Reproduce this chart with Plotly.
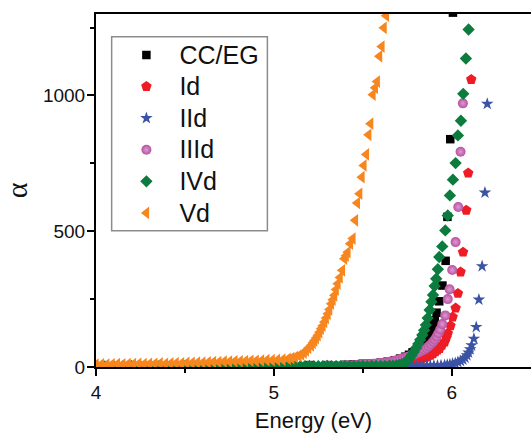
import plotly.graph_objects as go

# ---- absorption coefficient vs photon energy -------------------------------
SERIES_NAMES = ["CC/EG", "Id", "IId", "IIId", "IVd", "Vd"]

ENERGY_CCEG = [4.00, 4.10, 4.20, 4.30, 4.40, 4.50, 4.60, 4.70, 4.80, 4.90, 5.00,
               5.10, 5.20, 5.30, 5.40, 5.45, 5.50, 5.55, 5.60, 5.64, 5.68, 5.71,
               5.74, 5.76, 5.78, 5.80, 5.82, 5.84, 5.857, 5.872, 5.885, 5.896,
               5.905, 5.915, 5.930, 5.948, 5.966, 5.976, 5.992, 6.007]
ALPHA_CCEG = [3, 3, 3, 4, 4, 4, 4, 5, 5, 5, 6,
              6, 7, 7, 8, 10, 12, 13, 16, 20, 25, 31,
              38, 45, 54, 62, 72, 84, 100, 116, 136, 155,
              172, 200, 242, 300, 391, 553, 839, 1305]

ENERGY_ID = [4.00, 4.10, 4.20, 4.30, 4.40, 4.50, 4.60, 4.70, 4.80, 4.90, 5.00,
             5.10, 5.20, 5.30, 5.40, 5.50, 5.55, 5.60, 5.64, 5.68, 5.72, 5.76,
             5.79, 5.81, 5.83, 5.85, 5.865, 5.88, 5.894, 5.908, 5.92, 5.932,
             5.945, 5.96, 5.97, 5.978, 5.993, 6.005, 6.022, 6.035, 6.050,
             6.064, 6.082, 6.093, 6.110]
ALPHA_ID = [2, 2, 2, 2, 3, 3, 3, 3, 3, 4, 4,
            4, 4, 5, 5, 6, 7, 9, 11, 14, 17, 21,
            25, 28, 31, 35, 38, 43, 49, 56, 62, 68,
            80, 92, 108, 124, 152, 184, 217, 271, 350,
            423, 577, 714, 1059]

ENERGY_IID = [4.00, 4.10, 4.20, 4.30, 4.40, 4.50, 4.60, 4.70, 4.80, 4.90, 5.00,
              5.10, 5.20, 5.30, 5.40, 5.50, 5.55, 5.60, 5.64, 5.68, 5.70, 5.72,
              5.74, 5.76, 5.78, 5.80, 5.82, 5.84, 5.86, 5.88, 5.90, 5.92, 5.94,
              5.96, 5.975, 5.99, 6.005, 6.02, 6.035, 6.05, 6.063, 6.075, 6.086,
              6.095, 6.104, 6.112, 6.125, 6.138, 6.153, 6.171, 6.187, 6.200]
ALPHA_IID = [2, 2, 2, 2, 2, 2, 3, 3, 3, 3, 3,
             3, 3, 3, 3, 3, 3, 3, 3, 4, 3, 4,
             4, 3, 4, 4, 4, 4, 5, 4, 5, 5, 6,
             7, 8, 10, 12, 14, 18, 22, 27, 34, 43,
             53, 65, 80, 104, 147, 248, 371, 642, 969]

ENERGY_IIID = [4.00, 4.10, 4.20, 4.30, 4.40, 4.50, 4.60, 4.70, 4.80, 4.90, 5.00,
               5.10, 5.20, 5.30, 5.35, 5.40, 5.425, 5.45, 5.475, 5.50, 5.52, 5.54,
               5.56, 5.58, 5.60, 5.62, 5.635, 5.65, 5.665, 5.68, 5.695, 5.71,
               5.725, 5.74, 5.755, 5.77, 5.785, 5.80, 5.815, 5.83, 5.845, 5.858,
               5.87, 5.883, 5.895, 5.905, 5.915, 5.925, 5.935, 5.947, 5.964,
               5.978, 5.988, 6.003, 6.022, 6.037, 6.050, 6.063]
ALPHA_IIID = [2, 2, 2, 3, 3, 3, 3, 3, 3, 4, 4,
              4, 4, 5, 5, 6, 6, 7, 8, 9, 10, 11,
              12, 13, 15, 16, 18, 19, 21, 23, 26, 29,
              32, 35, 38, 42, 45, 50, 54, 59, 64, 69,
              76, 84, 93, 101, 112, 124, 138, 158, 190,
              250, 286, 357, 460, 589, 793, 971]

ENERGY_IVD = [4.00, 4.05, 4.10, 4.15, 4.20, 4.25, 4.30, 4.35, 4.40, 4.45, 4.50,
              4.55, 4.60, 4.65, 4.70, 4.725, 4.75, 4.775, 4.80, 4.825, 4.85,
              4.875, 4.90, 4.925, 4.95, 4.975, 5.00, 5.025, 5.05, 5.075, 5.10,
              5.125, 5.15, 5.175, 5.20, 5.225, 5.25, 5.275, 5.30, 5.325, 5.35,
              5.375, 5.40, 5.425, 5.45, 5.475, 5.50, 5.525, 5.55, 5.575, 5.60,
              5.625, 5.65, 5.67, 5.69, 5.705, 5.72, 5.735, 5.75, 5.762, 5.775,
              5.787, 5.80, 5.812, 5.823, 5.835, 5.845, 5.855, 5.865, 5.876,
              5.886, 5.895, 5.904, 5.913, 5.922, 5.930, 5.947, 5.964, 5.978,
              5.990, 6.007, 6.022, 6.035, 6.052, 6.065, 6.080, 6.095]
ALPHA_IVD = [2, 2, 2, 2, 3, 2, 3, 3, 2, 3, 3,
             3, 3, 3, 3, 3, 3, 3, 3, 3, 3,
             3, 3, 3, 3, 3, 3, 3, 3, 3, 3,
             3, 3, 3, 3, 3, 3, 3, 3, 3, 3,
             3, 3, 3, 3, 3, 4, 3, 4, 4, 4,
             4, 5, 5, 6, 8, 10, 15, 22, 32, 43,
             55, 70, 85, 100, 118, 135, 155, 180, 210,
             240, 265, 298, 325, 360, 405, 444, 503, 558,
             632, 690, 751, 853, 907, 1006, 1136, 1243]

ENERGY_VD = [4.00, 4.03, 4.06, 4.09, 4.12, 4.15, 4.18, 4.21, 4.24, 4.27, 4.30,
             4.33, 4.36, 4.39, 4.42, 4.45, 4.48, 4.51, 4.54, 4.57, 4.60, 4.63,
             4.66, 4.69, 4.72, 4.75, 4.78, 4.81, 4.84, 4.87, 4.90, 4.93, 4.96,
             4.99, 5.02, 5.05, 5.08, 5.10, 5.12, 5.14, 5.155, 5.17, 5.182,
             5.195, 5.21, 5.22, 5.229, 5.238, 5.248, 5.257, 5.266, 5.275,
             5.285, 5.294, 5.304, 5.313, 5.323, 5.332, 5.341, 5.350, 5.360,
             5.372, 5.385, 5.397, 5.406, 5.416, 5.430, 5.444, 5.458, 5.469,
             5.482, 5.495, 5.506, 5.520, 5.533, 5.544, 5.557, 5.570, 5.581,
             5.594, 5.607, 5.619, 5.632]
ALPHA_VD = [9, 10, 9, 10, 11, 10, 11, 11, 12, 11, 12,
            12, 13, 12, 13, 14, 13, 15, 15, 16, 16, 17,
            18, 18, 20, 20, 21, 21, 22, 23, 23, 24, 25,
            25, 26, 27, 30, 33, 36, 41, 46, 53, 61,
            70, 80, 89, 98, 107, 117, 128, 141, 152,
            166, 180, 196, 212, 233, 248, 264, 285, 307,
            330, 356, 399, 410, 423, 454, 473, 540, 604,
            638, 699, 742, 783, 855, 896, 1003, 1028, 1051,
            1144, 1180, 1249, 1294]

ENERGY = [ENERGY_CCEG, ENERGY_ID, ENERGY_IID, ENERGY_IIID, ENERGY_IVD, ENERGY_VD]
ALPHA = [ALPHA_CCEG, ALPHA_ID, ALPHA_IID, ALPHA_IIID, ALPHA_IVD, ALPHA_VD]

# marker styling per series
STYLES = [
    dict(symbol="square", size=8.5, color="#000000"),
    dict(symbol="pentagon", size=11, color="#ee1c25"),
    dict(symbol="star", size=9.5, color="#3a53a4"),
    dict(symbol="circle", size=10, color="#b9519f",
         gradient=dict(type="radial", color="#dc9ad2")),
    dict(symbol="diamond", size=9.5, color="#0b7c3e"),
    dict(symbol="triangle-left", size=11, color="#f7861f"),
]

FONT = "Liberation Sans, Arial, sans-serif"

fig = go.Figure()
for name, xs, ys, st in zip(SERIES_NAMES, ENERGY, ALPHA, STYLES):
    marker = dict(symbol=st["symbol"], size=st["size"], color=st["color"],
                  line=dict(width=0))
    if "gradient" in st:
        marker["gradient"] = st["gradient"]
    fig.add_trace(go.Scatter(
        x=xs, y=ys, mode="markers", marker=marker,
        name=f'<span style="font-size:25px">{name}</span>',
    ))

# frame around the legend entries
fig.add_shape(type="rect", xref="paper", yref="paper",
              x0=0.036, x1=0.394, y0=0.386, y1=0.9357,
              line=dict(color="#8c8c8c", width=1.5), fillcolor="white",
              layer="above")

fig.update_layout(
    width=531, height=433,
    margin=dict(l=96, r=0, t=14, b=66),
    paper_bgcolor="white", plot_bgcolor="white",
    font=dict(family=FONT, color="#111"),
    showlegend=True,
    legend=dict(
        x=0.040, y=0.943, xanchor="left", yanchor="top",
        bgcolor="rgba(0,0,0,0)", borderwidth=0,
        font=dict(size=22, family=FONT, color="#111"),
        itemwidth=56, itemsizing="trace",
    ),
    xaxis=dict(
        range=[4, 6.446], showgrid=False, zeroline=False,
        showline=True, linecolor="black", linewidth=2, mirror=True,
        ticks="outside", ticklen=7, tickwidth=2, tickcolor="black",
        tickvals=[4, 5, 6], ticktext=["4", "5", "6"],
        tickfont=dict(size=19, family=FONT, color="#111"),
        minor=dict(tickvals=[4.5, 5.5], ticks="outside", ticklen=4,
                   tickwidth=2, tickcolor="black"),
        title=dict(text="Energy (eV)", standoff=11,
                   font=dict(size=22, family=FONT, color="#111")),
    ),
    yaxis=dict(
        range=[0, 1300], showgrid=False, zeroline=False,
        showline=True, linecolor="black", linewidth=2,
        ticks="outside", ticklen=7, tickwidth=2, tickcolor="black",
        ticklabelstandoff=-2,
        tickvals=[0, 500, 1000], ticktext=["0", "500", "1000"],
        tickfont=dict(size=19, family=FONT, color="#111"),
        minor=dict(tickvals=[250, 750, 1250], ticks="outside", ticklen=4,
                   tickwidth=2, tickcolor="black"),
        title=dict(text="α", standoff=10,
                   font=dict(size=30, family="Liberation Serif, serif",
                             color="#111")),
    ),
)

fig.write_html("out.html")
